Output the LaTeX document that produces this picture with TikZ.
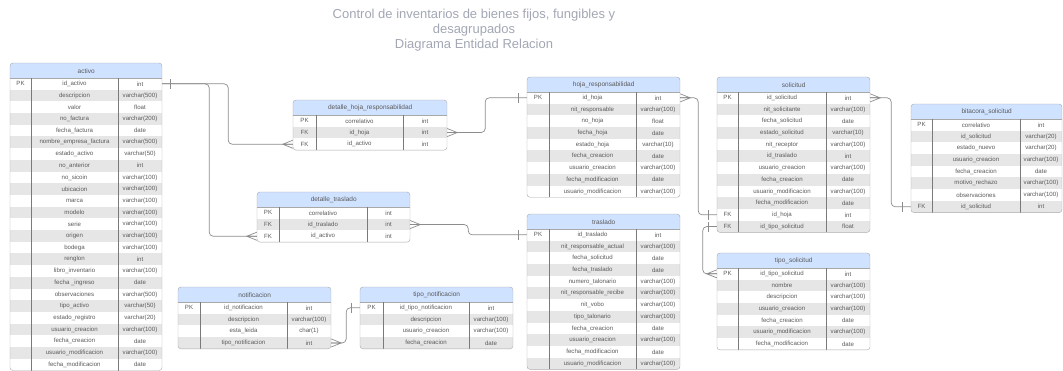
\documentclass[tikz,border=0pt]{standalone}
\usepackage{fontspec}
\setmainfont{Liberation Sans}
\usepackage{tikz}

\definecolor{headblue}{HTML}{CFE2FF}
\definecolor{rowgray}{HTML}{E6E6E6}
\definecolor{linegray}{HTML}{A8A8A8}
\definecolor{divgray}{HTML}{7A7A7A}
\definecolor{conngray}{HTML}{8C8C8C}
\definecolor{textgray}{HTML}{5A5A5A}
\definecolor{titlegray}{HTML}{A2A7B3}

\tikzset{
  tablehead/.style={fill=headblue, inner sep=0pt, minimum height=15pt, text=textgray, font=\fontsize{6.5}{7}\selectfont},
  tablerow/.style={inner sep=0pt, minimum height=11.7pt},
  celltext/.style={inner sep=0pt, text=textgray, font=\fontsize{6.1}{7}\selectfont},
  titletext/.style={align=center, text=titlegray, font=\fontsize{13}{15}\selectfont},
  conn/.style={draw=conngray, line width=0.7pt, rounded corners=4pt},
  crowfoot/.pic={\draw[conn, sharp corners] (0,-4) -- (10,0) -- (0,4) (0,0) -- (10,0);},
  onebar/.pic={\draw[conn, sharp corners] (8,-5) -- (8,5);}
}

% #1 name, #2 x, #3 y, #4 key width, #5 field width, #6 type width, #7 title, #8 rows
\newcommand{\ertable}[8]{%
  \pgfmathsetmacro\tw{#4+#5+#6}
  \foreach \key/\field/\ftype [count=\n] in {#8} {\xdef\nrows{\n}}
  \pgfmathsetmacro\th{15+11.7*\nrows}
  \begin{scope}
    \clip[rounded corners=3pt] (#2,#3) rectangle ++(\tw,\th);
    \node[tablehead, minimum width=\tw pt, anchor=north west] (#1) at (#2,#3) {#7};
    \foreach \key/\field/\ftype [count=\i] in {#8} {
      \pgfmathsetmacro\ry{#3+15+(\i-0.5)*11.7}
      \pgfmathtruncatemacro\odd{mod(\i,2)}
      \ifnum\odd=1 \def\rowcol{white}\else\def\rowcol{rowgray}\fi
      \node[tablerow, fill=\rowcol, minimum width=\tw pt] (#1-\i) at (#2+\tw/2,\ry) {};
      \node[celltext] (#1-\i-k) at (#2+#4/2,\ry) {\key};
      \node[celltext] (#1-\i-f) at (#2+#4+#5/2,\ry) {\field};
      \node[celltext] (#1-\i-t) at (#2+#4+#5+#6/2,\ry) {\ftype};
    }
  \end{scope}
  \draw[linegray] (#2,#3+15) -- ++(\tw,0);
  \draw[divgray] (#2+#4,#3+15) -- ++(0,\th-15);
  \draw[divgray] (#2+#4+#5,#3+15) -- ++(0,\th-15);
  \draw[linegray, rounded corners=3pt] (#2,#3) rectangle ++(\tw,\th);
}

\begin{document}
\begin{tikzpicture}[x=1pt, y=-1pt]
  \useasboundingbox (0,0) rectangle (1063,371);

  \node[titletext] (title) at (474,30) {Control de inventarios de bienes fijos, fungibles y\\desagrupados\\Diagrama Entidad Relacion};

  \ertable{activo}{10}{63}{21}{87}{44}{activo}{
    PK/id\_activo/int,
    /descripcion/varchar(500),
    /valor/float,
    /no\_factura/varchar(200),
    /fecha\_factura/date,
    /nombre\_empresa\_factura/varchar(500),
    /estado\_activo/varchar(50),
    /no\_anterior/int,
    /no\_sicoin/varchar(100),
    /ubicacion/varchar(100),
    /marca/varchar(100),
    /modelo/varchar(100),
    /serie/varchar(100),
    /origen/varchar(100),
    /bodega/varchar(100),
    /renglon/int,
    /libro\_inventario/varchar(100),
    /fecha \_ingreso/date,
    /observaciones/varchar(500),
    /tipo\_activo/varchar(50),
    /estado\_registro/varchar(20),
    /usuario\_creacion/varchar(100),
    /fecha\_creacion/date,
    /usuario\_modificacion/varchar(100),
    /fecha\_modificacion/date}

  \ertable{dhr}{293}{100}{23}{87}{44}{detalle\_hoja\_responsabilidad}{
    PK/correlativo/int,
    FK/id\_hoja/int,
    FK/id\_activo/int}

  \ertable{dt}{257}{192}{22}{88}{43}{detalle\_traslado}{
    PK/correlativo/int,
    FK/id\_traslado/int,
    FK/id\_activo/int}

  \ertable{notif}{178}{287}{22}{87}{44}{notificacion}{
    PK/id\_notificacion/int,
    /descripcion/varchar(100),
    /esta\_leida/char(1),
    /tipo\_notificacion/int}

  \ertable{tnotif}{360}{287}{23}{86}{44}{tipo\_notificacion}{
    PK/id\_tipo\_notificacion/int,
    /descripcion/varchar(100),
    /usuario\_creacion/varchar(100),
    /fecha\_creacion/date}

  \ertable{hoja}{527}{77}{22}{87}{44}{hoja\_responsabilidad}{
    PK/id\_hoja/int,
    /nit\_responsable/varchar(100),
    /no\_hoja/float,
    /fecha\_hoja/date,
    /estado\_hoja/varchar(10),
    /fecha\_creacion/date,
    /usuario\_creacion/varchar(100),
    /fecha\_modificacion/date,
    /usuario\_modificacion/varchar(100)}

  \ertable{traslado}{527}{214}{22}{87}{44}{traslado}{
    PK/id\_traslado/int,
    /nit\_responsable\_actual/varchar(100),
    /fecha\_solicitud/date,
    /fecha\_traslado/date,
    /numero\_talonario/varchar(100),
    /nit\_responsable\_recibe/varchar(100),
    /nit\_vobo/varchar(100),
    /tipo\_talonario/varchar(100),
    /fecha\_creacion/date,
    /usuario\_creacion/varchar(100),
    /fecha\_modificacion/date,
    /usuario\_modificacion/varchar(100)}

  \ertable{solicitud}{717}{77}{21}{88}{44}{solicitud}{
    PK/id\_solicitud/int,
    /nit\_solicitante/varchar(100),
    /fecha\_solicitud/date,
    /estado\_solicitud/varchar(10),
    /nit\_receptor/varchar(100),
    /id\_traslado/int,
    /usuario\_creacion/varchar(100),
    /fecha\_creacion/date,
    /usuario\_modificacion/varchar(100),
    /fecha\_modificacion/date,
    FK/id\_hoja/int,
    FK/id\_tipo\_solicitud/float}

  \ertable{tsol}{717}{253}{21}{88}{44}{tipo\_solicitud}{
    PK/id\_tipo\_solicitud/int,
    /nombre/varchar(100),
    /descripcion/varchar(100),
    /usuario\_creacion/varchar(100),
    /fecha\_creacion/date,
    /usuario\_modificacion/varchar(100),
    /fecha\_modificacion/date}

  \ertable{bit}{911}{104}{21}{88}{42}{bitacora\_solicitud}{
    PK/correlativo/int,
    /id\_solicitud/varchar(20),
    /estado\_nuevo/varchar(20),
    /usuario\_creacion/varchar(100),
    /fecha\_creacion/date,
    /motivo\_rechazo/varchar(100),
    /observaciones/varchar(100),
    FK/id\_solicitud/int}

  % relaciones
  \draw[conn] (activo-1.east) -- ++(66,0) |- (dhr-3.west);
  \draw[conn] (activo-1.east) -- ++(47,0) |- (dt-3.west);
  \pic at (activo-1.east) {onebar};
  \pic[rotate=180] at (dhr-3.west) {crowfoot};
  \pic[rotate=180] at (dt-3.west) {crowfoot};

  \draw[conn] (dhr-2.east) -- ++(38,0) |- (hoja-1.west);
  \pic at (dhr-2.east) {crowfoot};
  \pic[rotate=180] at (hoja-1.west) {onebar};

  \draw[conn] (dt-2.east) -- ++(58,0) |- (traslado-1.west);
  \pic at (dt-2.east) {crowfoot};
  \pic[rotate=180] at (traslado-1.west) {onebar};

  \draw[conn] (hoja-1.east) -- ++(18,0) |- (solicitud-11.west);
  \pic at (hoja-1.east) {crowfoot};
  \pic[rotate=180] at (solicitud-11.west) {onebar};

  \draw[conn] (solicitud-12.west) -- ++(-14,0) |- (tsol-1.west);
  \pic[rotate=180] at (solicitud-12.west) {onebar};
  \pic[rotate=180] at (tsol-1.west) {crowfoot};

  \draw[conn] (solicitud-1.east) -- ++(21,0) |- (bit-8.west);
  \pic at (solicitud-1.east) {crowfoot};
  \pic[rotate=180] at (bit-8.west) {onebar};

  \draw[conn] (notif-4.east) -- ++(15,0) |- (tnotif-1.west);
  \pic at (notif-4.east) {crowfoot};
  \pic[rotate=180] at (tnotif-1.west) {onebar};
\end{tikzpicture}
\end{document}
